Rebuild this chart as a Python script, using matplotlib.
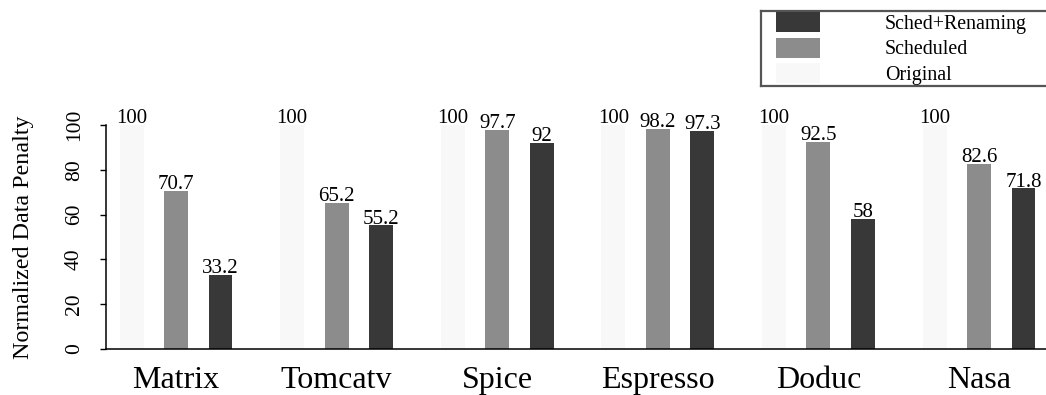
import matplotlib
matplotlib.use("Agg")

import matplotlib.pyplot as plt
from matplotlib.lines import Line2D

plt.rcParams['font.family'] = ['Liberation Serif', 'DejaVu Serif']

benchmarks = ["Matrix", "Tomcatv", "Spice", "Espresso", "Doduc", "Nasa"]
original = [100, 100, 100, 100, 100, 100]
scheduled = [70.7, 65.2, 97.7, 98.2, 92.5, 82.6]
sched_renaming = [33.2, 55.2, 92, 97.3, 58, 71.8]

yticks = [0, 20, 40, 60, 80, 100]

series = [
    ("Original", original, "#f8f8f8", -0.277),
    ("Scheduled", scheduled, "#8c8c8c", 0.0),
    ("Sched+Renaming", sched_renaming, "#383838", 0.277),
]
width = 0.149

fig = plt.figure(figsize=(10.46, 3.95), dpi=100)
ax = fig.add_axes([106 / 1046, 46 / 395, 940 / 1046, 224 / 395])

x = list(range(len(benchmarks)))
handles = {}
for name, vals, color, off in series:
    bars = ax.bar([i + off for i in x], vals, width=width, color=color,
                  edgecolor="none", label=name)
    handles[name] = bars
    for b, v in zip(bars, vals):
        ax.annotate(f"{v:g}", (b.get_x() + b.get_width() / 2, v),
                    xytext=(0, 1.2), textcoords="offset points",
                    ha="center", va="baseline", fontsize=15,
                    annotation_clip=False)

ax.set_xlim(-0.436, 5.417)
ax.set_ylim(0, 100)
ax.set_yticks(yticks)
ax.set_yticklabels([str(t) for t in yticks], rotation=90, va="center")
ax.set_xticks(x)
ax.set_xticklabels(benchmarks, fontsize=23)
ax.tick_params(axis="x", length=0, pad=12)
ax.tick_params(axis="y", length=4, width=1, pad=12, labelsize=15.5)
ax.spines["top"].set_visible(False)
ax.spines["right"].set_visible(False)
ax.spines["left"].set_linewidth(1.1)
ax.spines["bottom"].set_linewidth(1.1)

ax.set_ylabel("Normalized Data Penalty", fontsize=17.3)
ax.yaxis.set_label_coords(-0.0766, 0.5)

# legend, stacked top-down, with an open box running off the right edge
order = ["Sched+Renaming", "Scheduled", "Original"]
fig.legend([handles[n] for n in order], order,
           loc="upper left", bbox_to_anchor=(776 / 1046, 1 - 12 / 395),
           frameon=False, fontsize=14.4, borderpad=0, borderaxespad=0,
           handlelength=2.2, handleheight=1.15, handletextpad=3.25,
           labelspacing=0.2)
box_kw = dict(color="#555555", linewidth=1.6, transform=fig.transFigure)
y_top, y_bot, x_left = 1 - 11 / 395, 1 - 86 / 395, 761 / 1046
fig.add_artist(Line2D([x_left, 1.02], [y_top, y_top], **box_kw))
fig.add_artist(Line2D([x_left, 1.02], [y_bot, y_bot], **box_kw))
fig.add_artist(Line2D([x_left, x_left], [y_bot, y_top], **box_kw))

fig.savefig("out.png", dpi=100)
